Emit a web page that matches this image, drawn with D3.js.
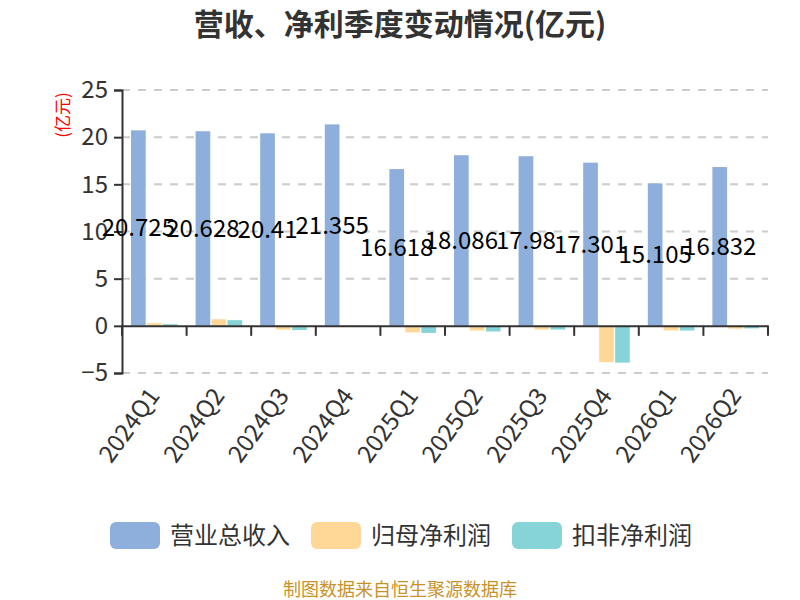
<!DOCTYPE html>
<html>
<head>
<meta charset="utf-8">
<script src="https://cdn.jsdelivr.net/npm/d3@7"></script>
<style>
  body { margin: 0; background: #fff; }
  svg text { font-family: "Noto Sans CJK SC", "Noto Sans", sans-serif; }
</style>
</head>
<body>
<svg id="chart" width="800" height="600"></svg>
<script>
const quarters = ['2024Q1', '2024Q2', '2024Q3', '2024Q4', '2025Q1', '2025Q2', '2025Q3', '2025Q4', '2026Q1', '2026Q2'];
const revenue = [20.725, 20.628, 20.41, 21.355, 16.618, 18.086, 17.98, 17.301, 15.105, 16.832];
const netProfit = [0.28, 0.7, -0.4, 0.08, -0.7, -0.5, -0.4, -3.85, -0.5, -0.3];
const deductedProfit = [0.18, 0.6, -0.45, 0.02, -0.75, -0.6, -0.4, -3.9, -0.5, -0.27];
const yTicks = [-5, 0, 5, 10, 15, 20, 25];
const seriesNames = ['营业总收入', '归母净利润', '扣非净利润'];
const colors = ['#8eaedb', '#ffd898', '#86d4d8'];

const svg = d3.select('#chart');
const plotLeft = 122, plotRight = 768, plotTop = 90, plotBottom = 373;

const x = d3.scaleBand().domain(quarters).range([plotLeft, plotRight]);
const inner = d3.scaleBand().domain(seriesNames).range([9, x.bandwidth() - 9]).paddingInner(0.08);
const y = d3.scaleLinear().domain([-5, 25]).range([plotBottom, plotTop]);

// title
svg.append('text')
  .attr('x', 400).attr('y', 35)
  .attr('text-anchor', 'middle')
  .attr('font-size', 30).attr('font-weight', 'bold')
  .attr('fill', '#333')
  .text('营收、净利季度变动情况(亿元)');

// gridlines
svg.append('g').selectAll('line')
  .data(yTicks.filter(d => d !== 0))
  .enter().append('line')
    .attr('x1', plotLeft).attr('x2', plotRight)
    .attr('y1', d => y(d)).attr('y2', d => y(d))
    .attr('stroke', '#ccc').attr('stroke-width', 2)
    .attr('stroke-dasharray', '8,8');

// y axis
const yAxis = svg.append('g')
  .attr('transform', `translate(${plotLeft},0)`)
  .call(d3.axisLeft(y).tickValues(yTicks).tickSize(8).tickPadding(6));
yAxis.select('.domain').attr('stroke', '#333').attr('stroke-width', 2);
yAxis.selectAll('.tick line').attr('stroke', '#333').attr('stroke-width', 2);
yAxis.selectAll('.tick text')
  .attr('font-size', 24).attr('fill', '#333')
  .attr('font-family', '"Noto Sans", sans-serif');

svg.append('text')
  .attr('transform', 'translate(69,115) rotate(-90)')
  .attr('text-anchor', 'middle')
  .attr('font-size', 17).attr('fill', 'red')
  .text('(亿元)');

// bars
const rows = quarters.map((q, i) => ({ q, vals: [revenue[i], netProfit[i], deductedProfit[i]] }));
const groups = svg.append('g').selectAll('g')
  .data(rows)
  .enter().append('g')
    .attr('transform', d => `translate(${x(d.q)},0)`);

groups.selectAll('rect')
  .data(d => d.vals.map((v, k) => ({ v, k })))
  .enter().append('rect')
    .attr('x', d => inner(seriesNames[d.k]))
    .attr('y', d => y(Math.max(0, d.v)))
    .attr('width', inner.bandwidth())
    .attr('height', d => Math.abs(y(d.v) - y(0)))
    .attr('fill', d => colors[d.k]);

// x axis at zero
const xAxis = svg.append('g')
  .attr('transform', `translate(0,${y(0)})`)
  .call(d3.axisBottom(x).tickSize(0).tickFormat(''));
xAxis.select('.domain').attr('stroke', '#333').attr('stroke-width', 2);
svg.append('g').selectAll('line')
  .data(d3.range(quarters.length + 1))
  .enter().append('line')
    .attr('x1', i => plotLeft + i * x.step()).attr('x2', i => plotLeft + i * x.step())
    .attr('y1', y(0)).attr('y2', y(0) + 10)
    .attr('stroke', '#333').attr('stroke-width', 2);

// x labels
svg.append('g').selectAll('text')
  .data(quarters)
  .enter().append('text')
    .attr('transform', d => `translate(${x(d) + x.bandwidth() / 2 - 7},${plotBottom + 13}) rotate(-54)`)
    .attr('text-anchor', 'end')
    .attr('dy', '0.7em')
    .attr('font-size', 24).attr('fill', '#333')
    .attr('font-family', '"Noto Sans", sans-serif')
    .text(d => d);

// revenue value labels
svg.append('g').selectAll('text')
  .data(rows)
  .enter().append('text')
    .attr('x', d => x(d.q) + inner(seriesNames[0]) + inner.bandwidth() / 2)
    .attr('y', d => y(d.vals[0] / 2))
    .attr('dy', '0.35em')
    .attr('text-anchor', 'middle')
    .attr('font-size', 24).attr('fill', '#000')
    .attr('font-family', '"Noto Sans", sans-serif')
    .text(d => d.vals[0]);

// legend
const legendX = [110, 311, 512];
const legend = svg.append('g').selectAll('g')
  .data(seriesNames)
  .enter().append('g')
    .attr('transform', (d, i) => `translate(${legendX[i]},522)`);
legend.append('rect')
  .attr('width', 50).attr('height', 27).attr('rx', 6)
  .attr('fill', (d, i) => colors[i]);
legend.append('text')
  .attr('x', 60).attr('y', 14).attr('dy', '0.35em')
  .attr('font-size', 24).attr('fill', '#333')
  .text(d => d);

// source
svg.append('text')
  .attr('x', 400).attr('y', 596)
  .attr('text-anchor', 'middle')
  .attr('font-size', 18).attr('fill', '#c8922a')
  .text('制图数据来自恒生聚源数据库');
</script>
</body>
</html>
